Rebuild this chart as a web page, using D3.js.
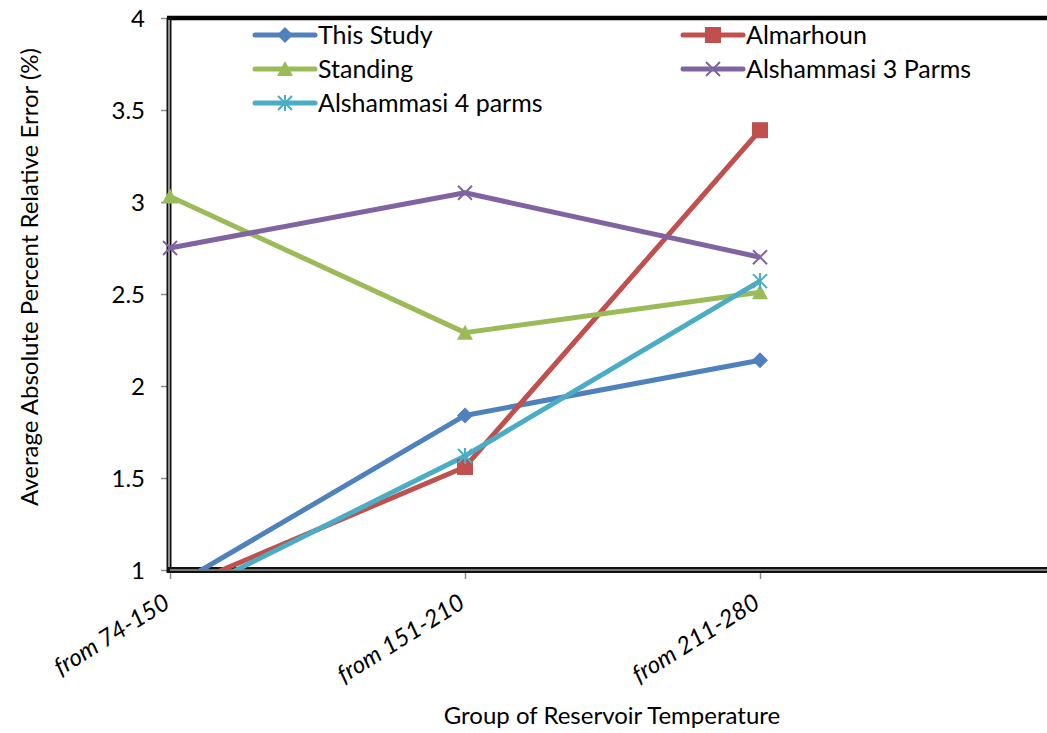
<!DOCTYPE html>
<html>
<head>
<meta charset="utf-8">
<script src="https://cdn.jsdelivr.net/npm/d3@7"></script>
<style>
  html, body { margin: 0; padding: 0; background: #fff; overflow: hidden; }
  svg { display: block; }
  text { font-family: Lato, "Open Sans", sans-serif; fill: #000; }
</style>
</head>
<body>
<svg id="chart" width="1047" height="733"></svg>
<script>
// Temperature groups on the category axis
const categories = ["from 74-150", "from 151-210", "from 211-280"];

// Average absolute percent relative error (%) per correlation
const thisStudy    = [0.90, 1.84, 2.14];
const almarhoun    = [0.88, 1.56, 3.39];
const standing     = [3.03, 2.29, 2.51];
const alshammasi3  = [2.75, 3.05, 2.70];
const alshammasi4  = [0.82, 1.62, 2.57];

const yTicks = [1, 1.5, 2, 2.5, 3, 3.5, 4];

const series = [
  { name: "This Study",         values: thisStudy,   color: "#4F81BD", marker: "diamond" },
  { name: "Almarhoun",          values: almarhoun,   color: "#C0504D", marker: "square" },
  { name: "Standing",           values: standing,    color: "#9BBB59", marker: "triangle" },
  { name: "Alshammasi 3 Parms", values: alshammasi3, color: "#8064A2", marker: "x" },
  { name: "Alshammasi 4 parms", values: alshammasi4, color: "#4BACC6", marker: "star" }
];

const svg = d3.select("#chart");
const plot = { left: 170, right: 1055, top: 18, bottom: 570 };

// one spare slot on the right keeps the plot wider than the data
const x = d3.scaleLinear().domain([0, categories.length]).range([plot.left, plot.right]);
const y = d3.scaleLinear().domain([1, 4]).range([plot.bottom, plot.top]);

svg.append("defs").append("clipPath").attr("id", "plotClip")
  .append("rect")
  .attr("x", plot.left - 20).attr("y", plot.top)
  .attr("width", plot.right - plot.left + 40).attr("height", plot.bottom - plot.top);

// Y axis
const yAxis = svg.append("g").attr("transform", `translate(${plot.left - 2},0)`)
  .call(d3.axisLeft(y).tickValues(yTicks).tickFormat(d3.format("")).tickSize(7).tickPadding(16));
yAxis.select(".domain").remove();
yAxis.selectAll(".tick line").attr("stroke", "#8c8c8c").attr("stroke-width", 1.5);
yAxis.selectAll(".tick text").style("font-size", "24px").attr("dy", "0.36em");

// X axis
const xAxis = svg.append("g").attr("transform", `translate(0,${plot.bottom + 2})`)
  .call(d3.axisBottom(x).tickValues(d3.range(categories.length))
    .tickFormat(i => categories[i]).tickSize(7).tickPadding(0));
xAxis.select(".domain").remove();
xAxis.selectAll(".tick line").attr("stroke", "#8c8c8c").attr("stroke-width", 1.5);
xAxis.selectAll(".tick text")
  .style("font-size", "24px")
  .style("font-style", "italic")
  .attr("text-anchor", "end")
  .attr("dy", 0)
  .attr("transform", "translate(-3,29) rotate(-32)");

// Plot frame: heavy top edge, doubled left and bottom edges
const frame = svg.append("g");
frame.append("line").attr("x1", plot.left - 3).attr("x2", plot.right)
  .attr("y1", plot.top).attr("y2", plot.top)
  .attr("stroke", "#000").attr("stroke-width", 4.5);
frame.append("line").attr("x1", plot.left - 1).attr("x2", plot.left - 1)
  .attr("y1", plot.top).attr("y2", plot.bottom + 3)
  .attr("stroke", "#111").attr("stroke-width", 5);
frame.append("line").attr("x1", plot.left - 1).attr("x2", plot.left - 1)
  .attr("y1", plot.top + 2).attr("y2", plot.bottom + 1)
  .attr("stroke", "#bbb").attr("stroke-width", 1.5);
frame.append("line").attr("x1", plot.left - 3).attr("x2", plot.right)
  .attr("y1", plot.bottom).attr("y2", plot.bottom)
  .attr("stroke", "#111").attr("stroke-width", 6);
frame.append("line").attr("x1", plot.left).attr("x2", plot.right)
  .attr("y1", plot.bottom).attr("y2", plot.bottom)
  .attr("stroke", "#999").attr("stroke-width", 1.5);

// Marker shapes
function drawMarker(g, type, cx, cy, color, s) {
  const h = s / 2;
  if (type === "diamond") {
    g.append("path").attr("d", `M${cx},${cy - h - 1}L${cx + h + 1},${cy}L${cx},${cy + h + 1}L${cx - h - 1},${cy}Z`)
      .attr("fill", color);
  } else if (type === "square") {
    g.append("rect").attr("x", cx - h).attr("y", cy - h).attr("width", s).attr("height", s)
      .attr("fill", color);
  } else if (type === "triangle") {
    g.append("path").attr("d", `M${cx},${cy - h - 1}L${cx + h + 1},${cy + h}L${cx - h - 1},${cy + h}Z`)
      .attr("fill", color);
  } else if (type === "x") {
    g.append("path").attr("d", `M${cx - h},${cy - h}L${cx + h},${cy + h}M${cx - h},${cy + h}L${cx + h},${cy - h}`)
      .attr("stroke", color).attr("stroke-width", 2);
  } else if (type === "star") {
    g.append("path").attr("d",
      `M${cx - h},${cy - h}L${cx + h},${cy + h}M${cx - h},${cy + h}L${cx + h},${cy - h}M${cx},${cy - h - 1}L${cx},${cy + h + 1}`)
      .attr("stroke", color).attr("stroke-width", 2);
  }
}

const line = d3.line().x((d, i) => x(i)).y(d => y(d));
const linesG = svg.append("g").attr("clip-path", "url(#plotClip)");
const markersG = svg.append("g");

series.forEach(s => {
  linesG.append("path")
    .datum(s.values)
    .attr("d", line)
    .attr("fill", "none")
    .attr("stroke", s.color)
    .attr("stroke-width", 5)
    .attr("stroke-linejoin", "round");
});
series.forEach(s => {
  const g = markersG.append("g");
  s.values.forEach((v, i) => {
    if (v >= 1 && v <= 4) drawMarker(g, s.marker, x(i), y(v), s.color, s.marker === "square" ? 16 : 14);
  });
});

// Legend, two columns
const legend = svg.append("g");
const legendPos = [[255, 35], [683, 35], [255, 69], [683, 69], [255, 103]];
series.forEach((s, i) => {
  const [lx, ly] = legendPos[i];
  const g = legend.append("g");
  g.append("line").attr("x1", lx).attr("x2", lx + 60).attr("y1", ly).attr("y2", ly)
    .attr("stroke", s.color).attr("stroke-width", 5).attr("stroke-linecap", "round");
  drawMarker(g, s.marker, lx + 30, ly, s.color, s.marker === "square" ? 16 : 14);
  g.append("text").attr("x", lx + 63).attr("y", ly).attr("dy", "0.36em")
    .style("font-size", "25px").text(s.name);
});

// Axis titles
svg.append("text")
  .attr("transform", `translate(30,${(plot.top + plot.bottom) / 2 - 17}) rotate(-90)`)
  .attr("text-anchor", "middle").attr("dy", "0.35em")
  .style("font-size", "24px")
  .text("Average Absolute Percent Relative Error (%)");
svg.append("text")
  .attr("x", 612).attr("y", 716).attr("text-anchor", "middle").attr("dy", "0.35em")
  .style("font-size", "24px")
  .text("Group of Reservoir Temperature");
</script>
</body>
</html>
